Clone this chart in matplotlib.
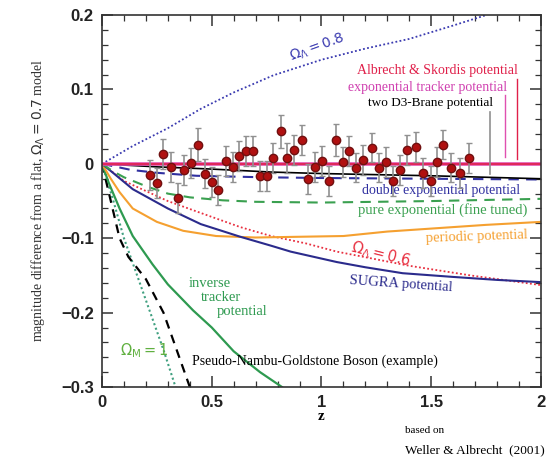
import numpy as np
import matplotlib
matplotlib.use("Agg")
import matplotlib.pyplot as plt
from matplotlib.ticker import MultipleLocator, FuncFormatter

# model curves (z, magnitude difference)
z_ol08 = [0, 0.14, 0.3, 0.45, 0.6, 0.78, 1.0, 1.2, 1.4, 1.6, 1.75]
m_ol08 = [0, 0.024, 0.048, 0.074, 0.096, 0.119, 0.140, 0.155, 0.168, 0.186, 0.200]

z_ol06 = [0, 0.1, 0.3, 0.45, 0.63, 0.77, 0.93, 1.07, 1.4, 1.68, 2.0]
m_ol06 = [0, -0.023, -0.05, -0.066, -0.085, -0.097, -0.107, -0.118, -0.137, -0.150, -0.163]

z_om1 = [0, 0.05, 0.1, 0.16, 0.22, 0.28, 0.335]
m_om1 = [0, -0.048, -0.1, -0.15, -0.2, -0.25, -0.3]

z_pngb = [0, 0.04, 0.08, 0.12, 0.2, 0.28, 0.34, 0.40]
m_pngb = [0, -0.05, -0.1, -0.125, -0.155, -0.2, -0.25, -0.3]

z_inv = [0, 0.03, 0.08, 0.14, 0.23, 0.3, 0.415, 0.5, 0.6, 0.72, 0.82]
m_inv = [0, -0.025, -0.06, -0.097, -0.135, -0.162, -0.197, -0.22, -0.252, -0.28, -0.3]

z_per = [0, 0.04, 0.08, 0.14, 0.25, 0.37, 0.52, 0.7, 0.9, 1.1, 1.3, 1.5, 1.75, 2.0]
m_per = [0, -0.02, -0.038, -0.06, -0.078, -0.09, -0.097, -0.099, -0.098, -0.097, -0.091, -0.087, -0.082, -0.078]

z_sugra = [0, 0.05, 0.14, 0.3, 0.45, 0.63, 0.77, 0.86, 1.07, 1.2, 1.37, 1.6, 1.8, 2.0]
m_sugra = [0, -0.012, -0.034, -0.06, -0.081, -0.098, -0.110, -0.118, -0.132, -0.139, -0.147, -0.152, -0.156, -0.159]

z_pure = [0, 0.05, 0.1, 0.2, 0.3, 0.4, 0.55, 0.7, 1.0, 1.5, 2.0]
m_pure = [0, -0.01, -0.018, -0.03, -0.04, -0.045, -0.049, -0.051, -0.052, -0.05, -0.047]

z_dexp = [0, 0.05, 0.13, 0.25, 0.43, 0.73, 1.0, 1.5, 2.0]
m_dexp = [0, -0.003, -0.008, -0.012, -0.016, -0.018, -0.019, -0.020, -0.021]

z_d3 = [0, 0.25, 0.5, 0.77, 1.0, 1.5, 2.0]
m_d3 = [0, -0.004, -0.007, -0.011, -0.013, -0.016, -0.020]

z_flat = [0, 2.0]
m_flat = [0, 0]

# simulated supernova points
z_sn = [0.219, 0.251, 0.278, 0.314, 0.346, 0.374, 0.405, 0.437, 0.469, 0.501,
        0.528, 0.565, 0.597, 0.624, 0.656, 0.688, 0.720, 0.752, 0.779, 0.815,
        0.843, 0.875, 0.911, 0.938, 0.970, 1.002, 1.034, 1.066, 1.098, 1.125,
        1.157, 1.189, 1.230, 1.262, 1.294, 1.326, 1.358, 1.390, 1.431, 1.462,
        1.499, 1.526, 1.554, 1.590, 1.631, 1.672]
m_sn = [-0.015, -0.026, 0.013, -0.004, -0.046, -0.008, 0.001, 0.026, -0.013, -0.024,
        -0.035, 0.004, -0.004, 0.011, 0.017, 0.017, -0.016, -0.016, 0.008, 0.044,
        0.008, 0.019, 0.032, -0.020, -0.004, 0.004, -0.023, 0.032, 0.003, 0.017,
        -0.005, 0.005, 0.022, -0.005, 0.003, -0.023, -0.008, 0.019, 0.023, -0.012,
        -0.023, 0.003, 0.026, -0.005, -0.012, 0.008]
e_sn = [0.02, 0.02, 0.02, 0.02, 0.02, 0.02, 0.02, 0.022, 0.02, 0.02,
        0.02, 0.02, 0.02, 0.02, 0.02, 0.02, 0.02, 0.02, 0.02, 0.022,
        0.02, 0.02, 0.02, 0.02, 0.02, 0.02, 0.02, 0.022, 0.02, 0.02,
        0.02, 0.02, 0.02, 0.02, 0.02, 0.02, 0.02, 0.02, 0.02, 0.02,
        0.02, 0.02, 0.02, 0.02, 0.02, 0.02]

serif = ["Liberation Serif", "DejaVu Serif"]
sans = ["Liberation Sans", "DejaVu Sans"]

fig = plt.figure(figsize=(5.5, 4.58), dpi=100)
ax = fig.add_axes([0.1855, 0.155, 0.798, 0.812])

dots = (0, (1, 1.3))
ax.plot(z_ol08, m_ol08, color="#3a3ab0", lw=1.3, ls=dots)
ax.plot(z_ol06, m_ol06, color="#e83040", lw=1.3, ls=dots)
ax.plot(z_om1, m_om1, color="#40a080", lw=1.5, ls=dots)
ax.plot(z_pngb, m_pngb, color="black", lw=1.6, ls=(0, (4, 3)))
ax.plot(z_inv, m_inv, color="#2e9a50", lw=1.6)
ax.plot(z_per, m_per, color="#f5a030", lw=1.5)
ax.plot(z_sugra, m_sugra, color="#2b2b8c", lw=1.5)
ax.plot(z_pure, m_pure, color="#3aa050", lw=1.5, ls=(0, (5, 3.5)))
ax.plot(z_dexp, m_dexp, color="#3030a0", lw=1.5, ls=(0, (5, 3.5)))
ax.plot(z_d3, m_d3, color="black", lw=1.2)
ax.plot(z_flat, m_flat, color="#e050b0", lw=2.6)
ax.plot(z_flat, m_flat, color="#e0204a", lw=1.2)

ax.errorbar(z_sn, m_sn, yerr=e_sn, fmt="o", color="#b01010", mec="#701010",
            ms=6, ecolor="#909090", elinewidth=1.2, capsize=2, capthick=1.0, zorder=5)

# leader lines for the labels near y = 0
ax.plot([1.77, 1.77], [-0.013, 0.070], color="#909090", lw=1.2)
ax.plot([1.835, 1.835], [0.009, 0.092], color="#e050b0", lw=1.0)
ax.plot([1.89, 1.89], [0.007, 0.114], color="#e0204a", lw=1.0)

# labels
ax.text(0.98, 0.156, r"$\Omega_\Lambda = 0.8$", color="#3a3ab0", fontsize=10,
        family=serif, rotation=20, ha="center", va="center")
ax.text(1.895, 0.125, "Albrecht & Skordis potential", color="#e0204a", fontsize=10,
        family=serif, ha="right", va="center")
ax.text(1.845, 0.103, "exponential tracker potential", color="#d040b0", fontsize=10,
        family=serif, ha="right", va="center")
ax.text(1.781, 0.082, "two D3-Brane potential", color="black", fontsize=9.5,
        family=serif, ha="right", va="center")
ax.text(1.904, -0.036, "double exponential potential", color="#3030a0", fontsize=10,
        family=serif, ha="right", va="center")
ax.text(1.94, -0.062, "pure exponential (fine tuned)", color="#3aa050", fontsize=10.5,
        family=serif, ha="right", va="center")
ax.text(1.94, -0.098, "periodic potential", color="#f5a030", fontsize=10.5,
        family=serif, ha="right", va="center", rotation=2)
ax.text(1.27, -0.121, r"$\Omega_\Lambda = 0.6$", color="#e83040", fontsize=10.5,
        family=serif, rotation=-14, ha="center", va="center")
ax.text(1.36, -0.162, "SUGRA potential", color="#2b2b8c", fontsize=10.5,
        family=serif, rotation=-4, ha="center", va="center")
ax.text(0.49, -0.161, "inverse", color="#2e9a50", fontsize=10.5, family=serif,
        ha="center", va="center")
ax.text(0.54, -0.180, "tracker", color="#2e9a50", fontsize=10.5, family=serif,
        ha="center", va="center")
ax.text(0.64, -0.199, "potential", color="#2e9a50", fontsize=10.5, family=serif,
        ha="center", va="center")
ax.text(0.08, -0.251, r"$\Omega_{\rm M} = 1$", color="#60b040", fontsize=10.5,
        family=serif, ha="left", va="center")
ax.text(0.41, -0.266, "Pseudo-Nambu-Goldstone Boson (example)", color="black",
        fontsize=10, family=serif, ha="left", va="center")

ax.set_xlim(0, 2)
ax.set_ylim(-0.3, 0.2)
ax.xaxis.set_major_locator(MultipleLocator(0.5))
ax.xaxis.set_minor_locator(MultipleLocator(0.1))
ax.yaxis.set_major_locator(MultipleLocator(0.1))
ax.yaxis.set_minor_locator(MultipleLocator(0.02))


def fmt(v, pos):
    s = "%g" % round(v, 3)
    return s.replace("-", "\u2212")


ax.xaxis.set_major_formatter(FuncFormatter(fmt))
ax.yaxis.set_major_formatter(FuncFormatter(fmt))
ax.tick_params(which="both", direction="in", top=True, right=True, color="#333333")
ax.tick_params(which="major", length=8, width=1.1, labelsize=12, pad=6)
ax.tick_params(which="minor", length=4, width=0.9)
for lab in ax.get_xticklabels() + ax.get_yticklabels():
    lab.set_fontweight("bold")
    lab.set_family(sans)
    lab.set_color("#222222")
for sp in ax.spines.values():
    sp.set_linewidth(1.2)
    sp.set_color("#333333")

ax.set_xlabel("z", fontsize=11, fontweight="bold", family=serif, labelpad=0)
ax.set_ylabel(r"magnitude difference from a flat, $\Omega_\Lambda = 0.7$ model",
              fontsize=10, family=serif, color="#333333", labelpad=10)

fig.text(0.736, 0.061, "based on", fontsize=8, family=serif, ha="left", va="center")
fig.text(0.736, 0.017, "Weller & Albrecht  (2001)", fontsize=9.5, family=serif,
         ha="left", va="center")

fig.savefig("out.png", dpi=100)
